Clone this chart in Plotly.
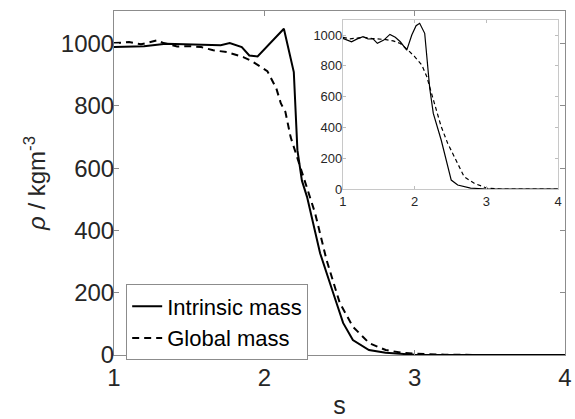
import plotly.graph_objects as go

# Main chart data
s_intr = [1.0, 1.2, 1.345, 1.5, 1.6, 1.71, 1.77, 1.85, 1.90, 1.955, 2.13, 2.196, 2.22, 2.25, 2.284,
          2.371, 2.458, 2.524, 2.589, 2.696, 2.807, 2.917, 3.0, 3.2, 3.5, 4.0]
rho_intr = [989, 992, 1000, 997, 995, 995, 1002, 989, 962, 959, 1048, 909, 658, 560, 508,
            327, 199, 103, 48, 16, 7, 3, 1, 0, 0, 0]

s_glob = [1.0, 1.1, 1.18, 1.29, 1.33, 1.42, 1.5, 1.58, 1.66, 1.75, 1.86, 1.92, 2.02, 2.08, 2.11,
          2.14, 2.175, 2.24, 2.27, 2.338, 2.414, 2.502, 2.589, 2.698, 2.807, 2.917, 3.0, 3.2, 3.5, 4.0]
rho_glob = [1002, 1005, 998, 1011, 1002, 991, 992, 989, 979, 973, 957, 943, 912, 856, 808,
            781, 700, 604, 560, 455, 305, 167, 91, 38, 16, 7, 4, 1, 0, 0]

# Inset data
s_in_intr = [1.0, 1.12, 1.2, 1.28, 1.35, 1.42, 1.48, 1.57, 1.655, 1.73, 1.80, 1.89, 1.96, 2.02, 2.07,
             2.14, 2.21, 2.26, 2.37, 2.46, 2.51, 2.60, 2.78, 3.0, 3.5, 4.0]
rho_in_intr = [978, 956, 975, 989, 974, 975, 946, 967, 1004, 985, 956, 902, 1000, 1060, 1076,
               1011, 654, 491, 318, 145, 58, 26, 6, 0, 0, 0]

s_in_glob = [1.0, 1.1, 1.2, 1.3, 1.4, 1.5, 1.6, 1.7, 1.8, 1.9, 2.0, 2.1, 2.17, 2.235, 2.30, 2.37,
             2.46, 2.58, 2.69, 2.83, 3.01, 3.2, 3.5, 4.0]
rho_in_glob = [985, 975, 980, 985, 978, 975, 970, 962, 945, 905, 860, 805, 729, 621, 513, 405,
               297, 188, 80, 37, 5, 0, 0, 0]

x_ticks = [1, 2, 3, 4]
y_ticks = [0, 200, 400, 600, 800, 1000]

FONT = "Liberation Sans, Arial, sans-serif"
AX = "#8c8c8c"
TXT = "#262626"

fig = go.Figure()
fig.add_trace(go.Scatter(x=s_intr, y=rho_intr, mode="lines", name="Intrinsic mass",
                         line=dict(color="black", width=2), xaxis="x", yaxis="y"))
fig.add_trace(go.Scatter(x=s_glob, y=rho_glob, mode="lines", name="Global mass",
                         line=dict(color="black", width=2, dash="7px,5px"), xaxis="x", yaxis="y"))
fig.add_trace(go.Scatter(x=s_in_intr, y=rho_in_intr, mode="lines", showlegend=False,
                         line=dict(color="black", width=1.2), xaxis="x2", yaxis="y2"))
fig.add_trace(go.Scatter(x=s_in_glob, y=rho_in_glob, mode="lines", showlegend=False,
                         line=dict(color="black", width=1.2, dash="4px,3px"), xaxis="x2", yaxis="y2"))

fig.update_layout(
    width=575, height=419,
    margin=dict(l=114, r=3, t=11, b=64),
    paper_bgcolor="white", plot_bgcolor="white",
    font=dict(family=FONT, color=TXT, size=24),
    xaxis=dict(domain=[0, 1], range=[1, 4], tickvals=x_ticks, ticks="inside", ticklen=5,
               tickcolor=AX, showline=True, linecolor=AX, linewidth=1, mirror="ticks",
               showgrid=False, zeroline=False, tickfont=dict(size=24, color=TXT),
               ticklabeloverflow="allow", ticklabelstandoff=1,
               title=dict(text="s", font=dict(size=25, color=TXT), standoff=8)),
    yaxis=dict(domain=[0, 1], range=[0, 1105], tickvals=y_ticks, ticks="inside", ticklen=5,
               tickcolor=AX, showline=True, linecolor=AX, linewidth=1, mirror="ticks",
               showgrid=False, zeroline=False, tickfont=dict(size=24, color=TXT),
               ticklabeloverflow="allow", ticklabelstandoff=-6,
               title=dict(text="<i>ρ</i> / kgm<sup>-3</sup>", font=dict(size=24, color=TXT), standoff=8)),
    xaxis2=dict(domain=[0.5076, 0.9847], anchor="y2", range=[1, 4], tickvals=x_ticks,
                ticks="inside", ticklen=3, tickcolor="#bdbdbd", showline=True, linecolor="#c8c8c8",
                linewidth=1, mirror="ticks", showgrid=False, zeroline=False,
                ticklabeloverflow="allow", ticklabelstandoff=0,
                tickfont=dict(size=13, color=TXT)),
    yaxis2=dict(domain=[0.4826, 0.975], anchor="x2", range=[0, 1100], tickvals=y_ticks,
                ticks="inside", ticklen=3, tickcolor="#bdbdbd", showline=True, linecolor="#c8c8c8",
                linewidth=1, mirror="ticks", showgrid=False, zeroline=False,
                ticklabeloverflow="allow", ticklabelstandoff=-3,
                tickfont=dict(size=13, color=TXT)),
    legend=dict(x=0.027, y=0.205, xanchor="left", yanchor="top", bgcolor="white",
                bordercolor="#8c8c8c", borderwidth=1, font=dict(size=22, color="black"),
                tracegroupgap=0, itemwidth=30),
    showlegend=True,
)

fig.write_html("out.html")
